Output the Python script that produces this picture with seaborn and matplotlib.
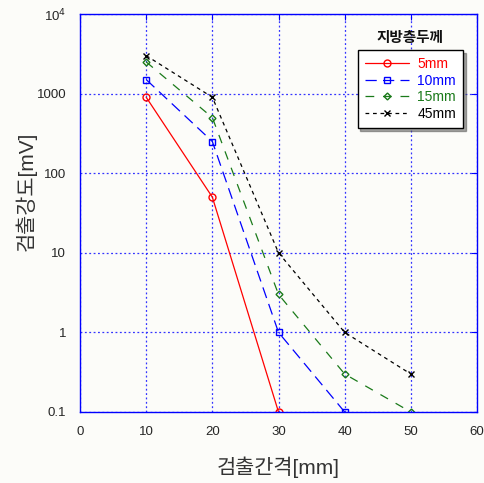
import numpy as np
import pandas as pd
import matplotlib
matplotlib.use("Agg")
import matplotlib.pyplot as plt
import seaborn as sns
from matplotlib.ticker import FixedLocator, FixedFormatter

sns.set_style("white")
plt.rcParams['font.family'] = ['Liberation Sans', 'Noto Sans CJK KR', 'DejaVu Sans']

# data
distance = [10, 20, 30, 40, 50]
labels = ["5mm", "10mm", "15mm", "45mm"]
v_5mm = [900, 50, 0.1]
v_10mm = [1500, 250, 1, 0.1]
v_15mm = [2500, 500, 3, 0.3, 0.1]
v_45mm = [3000, 900, 10, 1, 0.3]
values = [v_5mm, v_10mm, v_15mm, v_45mm]

colors = ["#ff0000", "#0000ff", "#1a7a1a", "#000000"]
markers = ["o", "s", "D", "x"]
msizes = [5, 5, 3.5, 5]
dashes = ["-", (0, (9, 5)), (0, (7, 7)), (0, (3, 3))]

rows = []
for lab, vals in zip(labels, values):
    for d, v in zip(distance, vals):
        rows.append({"thick": lab, "dist": d, "val": v})
df = pd.DataFrame(rows)

fig = plt.figure(figsize=(4.85, 4.83), dpi=100, facecolor="#fcfcf9")
ax = fig.add_axes([0.165, 0.147, 0.8185, 0.824])
ax.set_facecolor("#fcfcf9")

for lab, c, m, ms, ls in zip(labels, colors, markers, msizes, dashes):
    sub = df[df["thick"] == lab]
    sns.lineplot(data=sub, x="dist", y="val", ax=ax, color=c, marker=m,
                 markersize=ms, markerfacecolor="none", markeredgecolor=c,
                 markeredgewidth=1.0, linewidth=0.9, linestyle=ls, label=lab)

ax.set_yscale("log")
ax.set_xlim(0, 60)
ax.set_ylim(0.1, 1e4)
ax.xaxis.set_major_locator(FixedLocator([0, 10, 20, 30, 40, 50, 60]))
ax.yaxis.set_major_locator(FixedLocator([0.1, 1, 10, 100, 1000, 1e4]))
ax.yaxis.set_major_formatter(FixedFormatter(["0.1", "1", "10", "100", "1000", r"10$^4$"]))
ax.yaxis.set_minor_locator(FixedLocator([]))
ax.tick_params(axis="both", direction="in", length=4, color="#0000ff",
               labelsize=9.5, pad=10, top=True, right=True)
ax.grid(True, color="#3333ff", linestyle=(0, (1.5, 2)), linewidth=0.9)
for sp in ax.spines.values():
    sp.set_color("#0000ff")
    sp.set_linewidth(1.0)

ax.set_xlabel("검출간격[mm]", fontsize=15, color="#333333")
ax.set_ylabel("검출강도[mV]", fontsize=15, color="#333333")
ax.xaxis.set_label_coords(0.5, -0.113)
ax.yaxis.set_label_coords(-0.108, 0.555)

leg = ax.legend(loc="upper right", bbox_to_anchor=(0.965, 0.91), borderaxespad=0,
                fontsize=10, frameon=True, shadow=True, fancybox=False,
                labelcolor="linecolor", handlelength=3.2, borderpad=0.5,
                labelspacing=0.2, handletextpad=0.6)
leg.get_frame().set_edgecolor("black")
leg.get_frame().set_facecolor("white")
ax.text(0.83, 0.94, "지방층두께", transform=ax.transAxes, ha="center", va="center",
        fontsize=10.5, fontweight="bold", color="#111111")

fig.savefig("out.png", dpi=100, facecolor=fig.get_facecolor())
